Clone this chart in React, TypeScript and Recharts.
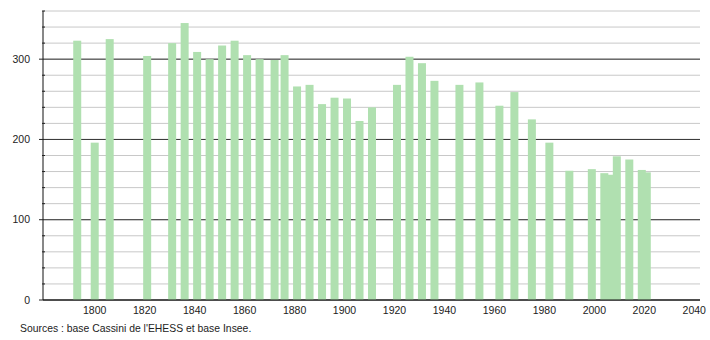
import React from "react";
import { BarChart, Bar, XAxis, YAxis, CartesianGrid } from "recharts";

const years = [
  1793, 1800, 1806, 1821, 1831, 1836, 1841, 1846, 1851, 1856, 1861, 1866, 1872,
  1876, 1881, 1886, 1891, 1896, 1901, 1906, 1911, 1921, 1926, 1931, 1936, 1946,
  1954, 1962, 1968, 1975, 1982, 1990, 1999, 2004, 2006, 2009, 2014, 2019, 2021,
];
const population = [
  323, 196, 325, 304, 320, 345, 309, 300, 317, 323, 305, 300, 299, 305, 266,
  268, 244, 252, 251, 223, 240, 268, 303, 295, 273, 268, 271, 242, 259, 225,
  196, 161, 163, 158, 156, 179, 175, 162, 159,
];
const xTicks = [1800, 1820, 1840, 1860, 1880, 1900, 1920, 1940, 1960, 1980, 2000, 2020, 2040];
const yMinorTicks = [0, 20, 40, 60, 80, 100, 120, 140, 160, 180, 200, 220, 240, 260, 280, 300, 320, 340, 360];
const yMajorTicks = [0, 100, 200, 300];
const source = "Sources : base Cassini de l'EHESS et base Insee.";

const data = years.map((year, i) => ({ year, pop: population[i] }));

const font = "'Liberation Sans', Arial, sans-serif";
const AXIS_W = 43;

const YTick = (props: any) => {
  const { y, payload } = props;
  const ax = AXIS_W;
  if (yMajorTicks.includes(payload.value)) {
    return (
      <g>
        <line x1={ax - 4} x2={ax} y1={y} y2={y} stroke="#222" />
        <text x={ax - 13} y={y} dy="0.35em" textAnchor="end" fontSize={10.5} fill="#222" fontFamily={font}>
          {payload.value}
        </text>
      </g>
    );
  }
  return <line x1={ax - 1} x2={ax + 2} y1={y} y2={y} stroke="#222" />;
};

const XTick = (props: any) => {
  const { x, y, payload } = props;
  return (
    <text x={x} y={y + 2} dy="0.35em" textAnchor="middle" fontSize={10.5} fill="#222" fontFamily={font}>
      {payload.value}
    </text>
  );
};

const BarShape = (props: any) => {
  const { x, y, width, height, fill } = props;
  const cx = x + width / 2;
  return <rect x={cx - 4} y={y} width={8} height={height} fill={fill} />;
};

export default function App() {
  return (
    <div style={{ position: "absolute", left: 0, top: 0, width: 710, height: 340, background: "#fff" }}>
      <BarChart width={710} height={340} data={data} margin={{ top: 11, right: 10, left: 0, bottom: 20 }}>
        <CartesianGrid vertical={false} stroke="#c8c8c8" />
        <CartesianGrid vertical={false} horizontalValues={yMajorTicks} stroke="#333" />
        <XAxis
          dataKey="year"
          type="number"
          domain={[1779.3, 2042.3]}
          ticks={xTicks}
          tickLine={false}
          axisLine={{ stroke: "#111" }}
          tick={<XTick />}
          height={20}
          interval={0}
        />
        <YAxis
          type="number"
          domain={[0, 360]}
          ticks={yMinorTicks}
          tickLine={false}
          axisLine={{ stroke: "#111" }}
          tick={<YTick />}
          width={AXIS_W}
          interval={0}
        />
        <Bar dataKey="pop" fill="#b0e0b0" shape={<BarShape />} isAnimationActive={false} />
      </BarChart>
      <div
        style={{
          position: "absolute",
          left: 20,
          top: 323,
          fontFamily: font,
          fontSize: 10.4,
          color: "#222",
          whiteSpace: "nowrap",
        }}
      >
        {source}
      </div>
    </div>
  );
}
